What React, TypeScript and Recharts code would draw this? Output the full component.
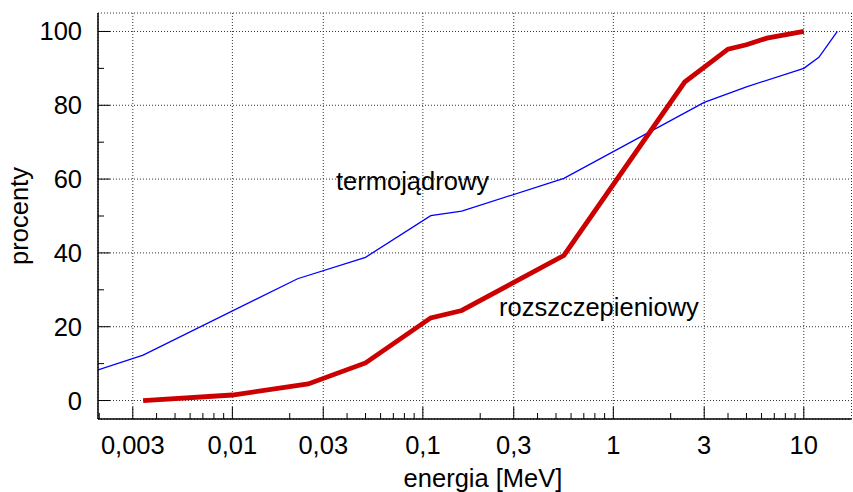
import { LineChart, Line, XAxis, YAxis, CartesianGrid } from "recharts";

// termojądrowy (thin blue)
const termoEnergy = [0.00197, 0.0034, 0.022, 0.05, 0.11, 0.16, 0.55, 3, 5, 10, 12, 15];
const termoPercent = [8.3, 12.3, 33, 38.8, 50.1, 51.3, 60.2, 80.8, 85, 90, 93, 100];

// rozszczepieniowy (thick red)
const fissEnergy = [0.0034, 0.01, 0.025, 0.05, 0.11, 0.16, 0.55, 2.37, 4, 5, 6.4, 10];
const fissPercent = [0, 1.5, 4.5, 10.2, 22.4, 24.4, 39.3, 86.3, 95.2, 96.4, 98.2, 100];

const xMajor = [0.003, 0.01, 0.03, 0.1, 0.3, 1, 3, 10];
const xMinor = [0.002, 0.004, 0.005, 0.006, 0.007, 0.008, 0.009, 0.02, 0.04, 0.05, 0.06, 0.07, 0.08, 0.09,
  0.2, 0.4, 0.5, 0.6, 0.7, 0.8, 0.9, 2, 4, 5, 6, 7, 8, 9];
const yMajor = [0, 20, 40, 60, 80, 100];
const yMinor = [10, 30, 50, 70, 90];

const xDomain = [0.00197, 17.8];
const yDomain = [-5, 105];

const FONT = "'Liberation Sans', Arial, Helvetica, sans-serif";
const FS = 25.5;

const termoData = termoEnergy.map((e, i) => ({ e, p: termoPercent[i] }));
const fissData = fissEnergy.map((e, i) => ({ e, p: fissPercent[i] }));
const xAll = [...xMajor, ...xMinor].sort((a, b) => a - b);
const yAll = [...yMajor, ...yMinor].sort((a, b) => a - b);

const fmt = (v: number) => String(v).replace(".", ",");

function BottomTick(props: any) {
  const { x, y, payload } = props;
  const major = xMajor.includes(payload.value);
  const len = major ? 12 : 6;
  return (
    <g>
      <line x1={x} x2={x} y1={y} y2={y - len} stroke="#000" strokeWidth={1} />
      {major && (
        <text x={x} y={y + 35} textAnchor="middle" fontFamily={FONT} fontSize={FS} fill="#000">
          {fmt(payload.value)}
        </text>
      )}
    </g>
  );
}

function TopTick(props: any) {
  const { x, y, payload } = props;
  const len = xMajor.includes(payload.value) ? 12 : 6;
  return <line x1={x} x2={x} y1={y} y2={y + len} stroke="#000" strokeWidth={1} />;
}

function LeftTick(props: any) {
  const { x, y, payload } = props;
  const major = yMajor.includes(payload.value);
  const len = major ? 12 : 6;
  return (
    <g>
      <line x1={x} x2={x + len} y1={y} y2={y} stroke="#000" strokeWidth={1} />
      {major && (
        <text x={82} y={y + 9} textAnchor="end" fontFamily={FONT} fontSize={FS} fill="#000">
          {payload.value}
        </text>
      )}
    </g>
  );
}

function RightTick(props: any) {
  const { x, y, payload } = props;
  const len = yMajor.includes(payload.value) ? 12 : 6;
  return <line x1={x} x2={x - len} y1={y} y2={y} stroke="#000" strokeWidth={1} />;
}

export default function App() {
  return (
    <div style={{ position: "absolute", left: 0, top: 0, background: "#fff" }}>
      <LineChart width={853} height={492} margin={{ top: 13, right: 1.5, bottom: 0, left: 0 }}>
        {/* hidden axes: used by grid and series */}
        <XAxis dataKey="e" type="number" scale="log" domain={xDomain} allowDataOverflow ticks={xMajor} height={0} hide />
        <YAxis type="number" domain={yDomain} allowDataOverflow ticks={yMajor} width={0} hide />
        <CartesianGrid stroke="#333" strokeDasharray="1 2" strokeWidth={1} />

        <XAxis
          xAxisId="b"
          dataKey="e"
          type="number"
          scale="log"
          domain={xDomain}
          allowDataOverflow
          ticks={xAll}
          interval={0}
          height={73}
          tickSize={0}
          tickMargin={0}
          tickLine={false}
          axisLine={{ stroke: "#000", strokeWidth: 1.5 }}
          tick={BottomTick}
        />
        <XAxis
          xAxisId="t"
          orientation="top"
          dataKey="e"
          type="number"
          scale="log"
          domain={xDomain}
          allowDataOverflow
          ticks={xAll}
          interval={0}
          height={0}
          tickSize={0}
          tickMargin={0}
          tickLine={false}
          axisLine={{ stroke: "#000", strokeWidth: 1.5 }}
          tick={TopTick}
        />
        <YAxis
          yAxisId="l"
          type="number"
          domain={yDomain}
          allowDataOverflow
          ticks={yAll}
          interval={0}
          width={98}
          tickSize={0}
          tickMargin={0}
          tickLine={false}
          axisLine={{ stroke: "#000", strokeWidth: 1.5 }}
          tick={LeftTick}
        />
        <YAxis
          yAxisId="r"
          orientation="right"
          type="number"
          domain={yDomain}
          allowDataOverflow
          ticks={yAll}
          interval={0}
          width={0}
          tickSize={0}
          tickMargin={0}
          tickLine={false}
          axisLine={{ stroke: "#000", strokeWidth: 1.5 }}
          tick={RightTick}
        />

        <Line data={termoData} dataKey="p" type="linear" stroke="#0000ff" strokeWidth={1.3} dot={false} isAnimationActive={false} />
        <Line data={fissData} dataKey="p" type="linear" stroke="#cc0000" strokeWidth={4.8} dot={false} isAnimationActive={false} />

        <text x={336} y={190} fontFamily={FONT} fontSize={FS} fill="#000">termojądrowy</text>
        <text x={499} y={316} fontFamily={FONT} fontSize={FS} fill="#000">rozszczepieniowy</text>
        <text x={483} y={487} textAnchor="middle" fontFamily={FONT} fontSize={FS} fill="#000">energia [MeV]</text>
        <text x={28} y={216} textAnchor="middle" transform="rotate(-90 28 216)" fontFamily={FONT} fontSize={FS} fill="#000">procenty</text>
      </LineChart>
    </div>
  );
}
